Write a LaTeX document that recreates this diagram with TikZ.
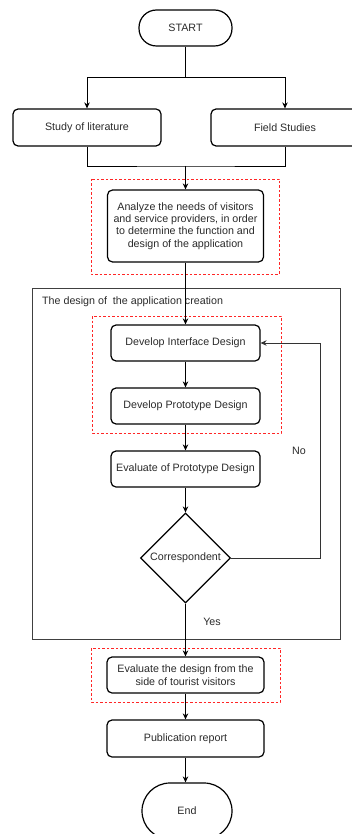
\documentclass[tikz,border=0pt]{standalone}
\usepackage{fontspec}
\setmainfont{Liberation Sans}
\usetikzlibrary{shapes.geometric,arrows.meta}
\definecolor{txt}{HTML}{2B2B2B}
\tikzset{
  fnt/.style={font=\fontsize{10.7}{12.4}\selectfont},
  box/.style={draw=black, line width=1.2pt, rounded corners=5pt, minimum height=36pt, inner sep=2pt, align=center, text=txt, fnt},
  term/.style={box, rounded corners=17.5pt},
  dia/.style={draw=black, line width=1.2pt, diamond, aspect=1, inner sep=0pt, minimum width=90pt, minimum height=90pt, text=txt, fnt},
  redbox/.style={draw=red!85!white, dashed, dash pattern=on 2.5pt off 2pt, line width=0.8pt},
  ln/.style={draw=black, line width=0.8pt},
  arr/.style={ln, -{Stealth[length=6pt,width=5.5pt]}},
  lbl/.style={text=txt, fnt, inner sep=0pt}
}
\begin{document}
\begin{tikzpicture}[x=1pt,y=-1pt]
\useasboundingbox (0,0) rectangle (351,834);
\fill[white] (0,0) rectangle (351,834);
% container and red groups
\draw[draw=black!75, line width=0.8pt] (32,288) rectangle (340,639);
\node[lbl, anchor=west] (ctitle) at (42,302) {The design of\ \ the application creation};
\draw[redbox] (91,179) rectangle (279,274);
\draw[redbox] (92,316) rectangle (281,433);
\draw[redbox] (91,648) rectangle (280,702);
% nodes
\node[term, minimum width=93pt] (start) at (185.5,28) {START};
\node[box, minimum width=148pt, minimum height=37pt] (lit) at (87,127.5) {Study of literature};
\node[box, minimum width=148pt, minimum height=37pt] (field) at (285,127.5) {Field Studies};
\node[box, minimum width=156pt, minimum height=72pt, inner sep=1pt] (analyze) at (185.5,226) {Analyze the needs of visitors\\and service providers, in order\\to determine the function and\\design of the application};
\node[box, minimum width=149pt] (iface) at (185.5,343) {Develop Interface Design};
\node[box, minimum width=149pt] (proto) at (185.5,406) {Develop Prototype Design};
\node[box, minimum width=149pt] (eval) at (185.5,469) {Evaluate of Prototype Design};
\node[dia] (corr) at (185.5,558) {Correspondent};
\node[box, minimum width=157pt] (evald) at (185.5,675) {Evaluate the design from the\\side of tourist visitors};
\node[box, minimum width=157pt, minimum height=37pt] (pub) at (185.5,738.5) {Publication report};
\node[term, minimum width=90pt, minimum height=56pt, rounded corners=28pt] (end) at (187,811) {End};
% labels
\node[lbl] (no) at (299,451) {No};
\node[lbl] (yes) at (212,622) {Yes};
% connectors
\coordinate (j1) at (185.5,77);
\coordinate (j2) at (185.5,166);
\coordinate (k) at (320,558);
\draw[ln] (start) -- (j1);
\draw[arr] (j1) -| (lit);
\draw[arr] (j1) -| (field);
\draw[ln] (lit) |- (j2) -| (field);
\draw[arr] (j2) -- (analyze);
\draw[arr] (analyze) -- (iface);
\draw[arr] (iface) -- (proto);
\draw[arr] (proto) -- (eval);
\draw[arr] (eval) -- (corr);
\draw[arr] (corr) -- (evald);
\draw[arr] (evald) -- (pub);
\draw[arr] (pub) -- (end.north -| pub.south);
\draw[arr, draw=black!80] (corr.east) -- (k) |- (iface.east);
\end{tikzpicture}
\end{document}
